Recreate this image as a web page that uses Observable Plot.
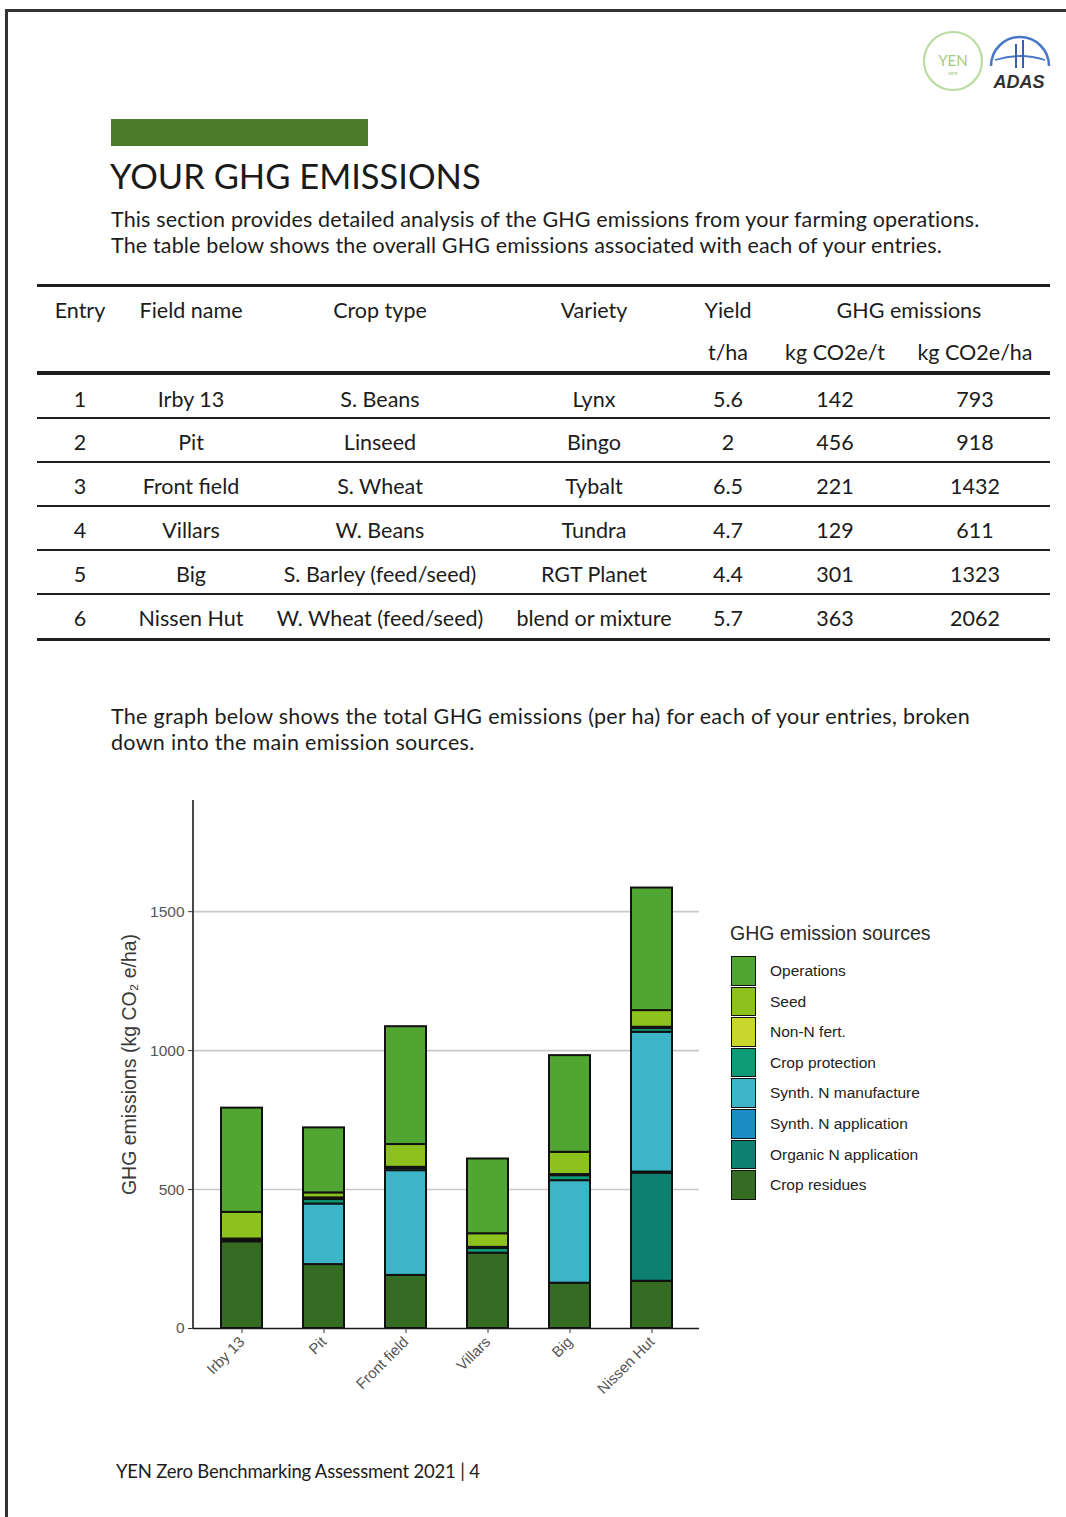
<!DOCTYPE html>
<html>
<head>
<meta charset="utf-8">
<script src="https://cdn.jsdelivr.net/npm/d3@7"></script>
<script src="https://cdn.jsdelivr.net/npm/@observablehq/plot@0.6"></script>
<style>
  body { margin: 0; background: #fff; }
  #page { position: relative; width: 1066px; height: 1517px; overflow: hidden; background: #fff;
          font-family: Lato, "Open Sans", sans-serif; color: #1c1c1c; }
  .abs { position: absolute; }
  .txt { position: absolute; white-space: nowrap; }
  .para { font-size: 21.5px; line-height: 26px; letter-spacing: 0.15px; }
  .row { position: absolute; left: 0; height: 40px; line-height: 40px; font-size: 21.5px; }
  .cell { position: absolute; top: 0; text-align: center; white-space: nowrap; }
  .hr { position: absolute; left: 37px; width: 1013px; background: #1f1f1f; }
  #legend { position: absolute; left: 730px; top: 918px; font-family: "Liberation Sans", Arial, sans-serif; }
  #legend .title { font-size: 19.5px; color: #2a2a2a; line-height: 30px; white-space: nowrap; }
  #legend .item { position: relative; height: 30.6px; }
  #legend .sw { position: absolute; left: 1px; top: 0; width: 23px; height: 27.6px; border: 1.5px solid #111; }
  #legend .lab { position: absolute; left: 40px; top: 0; line-height: 30.6px; font-size: 15.5px; color: #222; white-space: nowrap; }
  #chart { position: absolute; left: 0; top: 780px; }
</style>
</head>
<body>
<div id="page">
  <!-- page frame -->
  <div class="abs" style="left:5px;top:9px;width:1061px;height:3px;background:#333;"></div>
  <div class="abs" style="left:5px;top:9px;width:3px;height:1508px;background:#333;"></div>

  <!-- logos -->
  <svg class="abs" style="left:915px;top:22px" width="150" height="80">
    <circle cx="38" cy="39" r="29" fill="none" stroke="#b9dca0" stroke-width="2.2"/>
    <text x="38" y="44" text-anchor="middle" font-size="15" fill="#9fcd80" font-family="Lato, sans-serif">YEN</text>
    <text x="38" y="53" text-anchor="middle" font-size="5" fill="#9fcd80" font-family="Lato, sans-serif">zero</text>
    <path d="M76,44 A29,29 0 0 1 134,44" fill="none" stroke="#4a78c8" stroke-width="2.5"/>
    <path d="M80,38 Q105,30 130,38" fill="none" stroke="#4a78c8" stroke-width="1.8"/>
    <line x1="101" y1="22" x2="101" y2="46" stroke="#3a5fa8" stroke-width="2"/>
    <line x1="108" y1="18" x2="108" y2="46" stroke="#3a5fa8" stroke-width="2"/>
    <text x="104" y="66" text-anchor="middle" font-size="18" font-style="italic" font-weight="bold" fill="#333" font-family="'Liberation Sans', Arial, sans-serif">ADAS</text>
  </svg>

  <!-- section heading -->
  <div class="abs" style="left:111px;top:119px;width:257px;height:27px;background:#4b7d2b;"></div>
  <div class="txt" style="left:110px;top:155px;font-size:34.5px;line-height:42px;color:#1a1a1a;">YOUR GHG EMISSIONS</div>
  <div class="txt para" style="left:111px;top:206px;">This section provides detailed analysis of the GHG emissions from your farming operations.<br>The table below shows the overall GHG emissions associated with each of your entries.</div>

  <!-- summary table -->
  <div id="table"></div>

  <div class="txt para" style="left:111px;top:703px;letter-spacing:0.3px;">The graph below shows the total GHG emissions (per ha) for each of your entries, broken<br>down into the main emission sources.</div>

  <div id="chart"></div>
  <div id="legend"></div>

  <div class="txt" style="left:116px;top:1458px;font-size:18.5px;line-height:26px;letter-spacing:-0.2px;">YEN Zero Benchmarking Assessment 2021 | 4</div>
</div>

<script>
// ---- Entry table ----
const entries      = ["1", "2", "3", "4", "5", "6"];
const fieldNames   = ["Irby 13", "Pit", "Front field", "Villars", "Big", "Nissen Hut"];
const cropTypes    = ["S. Beans", "Linseed", "S. Wheat", "W. Beans", "S. Barley (feed/seed)", "W. Wheat (feed/seed)"];
const varieties    = ["Lynx", "Bingo", "Tybalt", "Tundra", "RGT Planet", "blend or mixture"];
const yields       = ["5.6", "2", "6.5", "4.7", "4.4", "5.7"];
const ghgPerTonne  = [142, 456, 221, 129, 301, 363];
const ghgPerHa     = [793, 918, 1432, 611, 1323, 2062];

// ---- Emission sources per field (kg CO2e/ha), stacked bottom to top ----
const cropResidues     = [312, 230, 191, 271, 163, 170];
const organicNApp      = [0, 0, 0, 0, 0, 389];
const synthNApp        = [0, 0, 0, 0, 0, 4];
const synthNManufacture= [0, 218, 377, 0, 369, 503];
const cropProtection   = [6, 16, 8, 17, 18, 14];
const nonNFert         = [4, 6, 4, 4, 4, 4];
const seed             = [96, 18, 82, 49, 80, 60];
const operations       = [375, 234, 424, 269, 348, 441];

const sourceNames  = ["Crop residues", "Organic N application", "Synth. N application", "Synth. N manufacture",
                      "Crop protection", "Non-N fert.", "Seed", "Operations"];
const sourceColors = ["#356b23", "#0e8071", "#1a8dc6", "#3cb5c8", "#0d9b77", "#c9d62c", "#8dc21e", "#51a531"];
const yTicks = [0, 500, 1000, 1500];

// ---- build table ----
const colEdges = [37, 123, 259, 501, 687, 769, 901, 1049];
const table = document.getElementById("table");
function addRow(center, cells) {
  const row = document.createElement("div");
  row.className = "row";
  row.style.top = (center - 21.5) + "px";
  cells.forEach(([text, c0, c1]) => {
    const cell = document.createElement("div");
    cell.className = "cell";
    cell.style.left = colEdges[c0] + "px";
    cell.style.width = (colEdges[c1] - colEdges[c0]) + "px";
    cell.textContent = text;
    row.appendChild(cell);
  });
  table.appendChild(row);
}
function addLine(y, h) {
  const l = document.createElement("div");
  l.className = "hr";
  l.style.top = (y - h / 2) + "px";
  l.style.height = h + "px";
  table.appendChild(l);
}
addLine(285, 3);
addRow(311, [["Entry",0,1],["Field name",1,2],["Crop type",2,3],["Variety",3,4],["Yield",4,5],["GHG emissions",5,7]]);
addRow(353, [["t/ha",4,5],["kg CO2e/t",5,6],["kg CO2e/ha",6,7]]);
addLine(373, 4);
const rowCenters = [400, 443, 487, 531, 575, 619];
const rowLines = [418, 462, 506, 550, 594];
entries.forEach((e, i) => {
  addRow(rowCenters[i], [[e,0,1],[fieldNames[i],1,2],[cropTypes[i],2,3],[varieties[i],3,4],
    [yields[i],4,5],[String(ghgPerTonne[i]),5,6],[String(ghgPerHa[i]),6,7]]);
});
rowLines.forEach(y => addLine(y, 2.8));
addLine(639, 3);

// ---- stacked bar chart ----
const seriesValues = [cropResidues, organicNApp, synthNApp, synthNManufacture, cropProtection, nonNFert, seed, operations];
const rows = [];
fieldNames.forEach((f, i) => {
  sourceNames.forEach((s, k) => {
    const v = seriesValues[k][i];
    if (v > 0) rows.push({field: f, source: s, value: v});
  });
});

// left axis line spanning the plot frame
function leftAxisLine(index, scales, values, dims) {
  const l = document.createElementNS("http://www.w3.org/2000/svg", "line");
  l.setAttribute("x1", dims.marginLeft);
  l.setAttribute("x2", dims.marginLeft);
  l.setAttribute("y1", dims.marginTop);
  l.setAttribute("y2", dims.height - dims.marginBottom + 0.8);
  l.setAttribute("stroke", "#1a1a1a");
  l.setAttribute("stroke-width", 1.6);
  return l;
}

const chart = Plot.plot({
  width: 720,
  height: 700,
  marginTop: 20,
  marginBottom: 152,
  marginLeft: 193,
  marginRight: 21,
  style: {fontFamily: "'Liberation Sans', Arial, sans-serif", fontSize: "15.5px", color: "#4d4d4d", background: "transparent"},
  x: {domain: fieldNames, paddingInner: 0.5, paddingOuter: 0.335, label: null},
  y: {domain: [0, 1900], label: null},
  color: {domain: sourceNames, range: sourceColors},
  marks: [
    Plot.ruleY(yTicks.filter(d => d > 0), {stroke: "#c8c8c8", strokeWidth: 1.6}),
    Plot.barY(rows, {x: "field", y: "value", fill: "source", stroke: "#111", strokeWidth: 2}),
    Plot.ruleY([0], {stroke: "#1a1a1a", strokeWidth: 1.6}),
    leftAxisLine,
    Plot.axisY({ticks: yTicks, tickSize: 5, tickPadding: 4, tickFormat: d => String(d), label: null, stroke: "#333", fill: "#555"}),
    Plot.axisY({ticks: [], label: "GHG emissions (kg CO\u2082 e/ha)", labelAnchor: "center", labelArrow: "none", labelOffset: 71, fontSize: 19.5, fill: "#3a3a3a"}),
    Plot.axisX({tickSize: 5, tickPadding: 6, tickRotate: -45, label: null, stroke: "#333", fill: "#555", fontSize: 15})
  ]
});
document.getElementById("chart").appendChild(chart);

// ---- legend (top to bottom = top of stack to bottom) ----
const legend = document.getElementById("legend");
const title = document.createElement("div");
title.className = "title";
title.textContent = "GHG emission sources";
legend.appendChild(title);
const pad = document.createElement("div");
pad.style.height = "8px";
legend.appendChild(pad);
sourceNames.slice().reverse().forEach((s) => {
  const k = sourceNames.indexOf(s);
  const item = document.createElement("div");
  item.className = "item";
  const sw = document.createElement("div");
  sw.className = "sw";
  sw.style.background = sourceColors[k];
  const lab = document.createElement("div");
  lab.className = "lab";
  lab.textContent = s;
  item.appendChild(sw);
  item.appendChild(lab);
  legend.appendChild(item);
});
</script>
</body>
</html>
